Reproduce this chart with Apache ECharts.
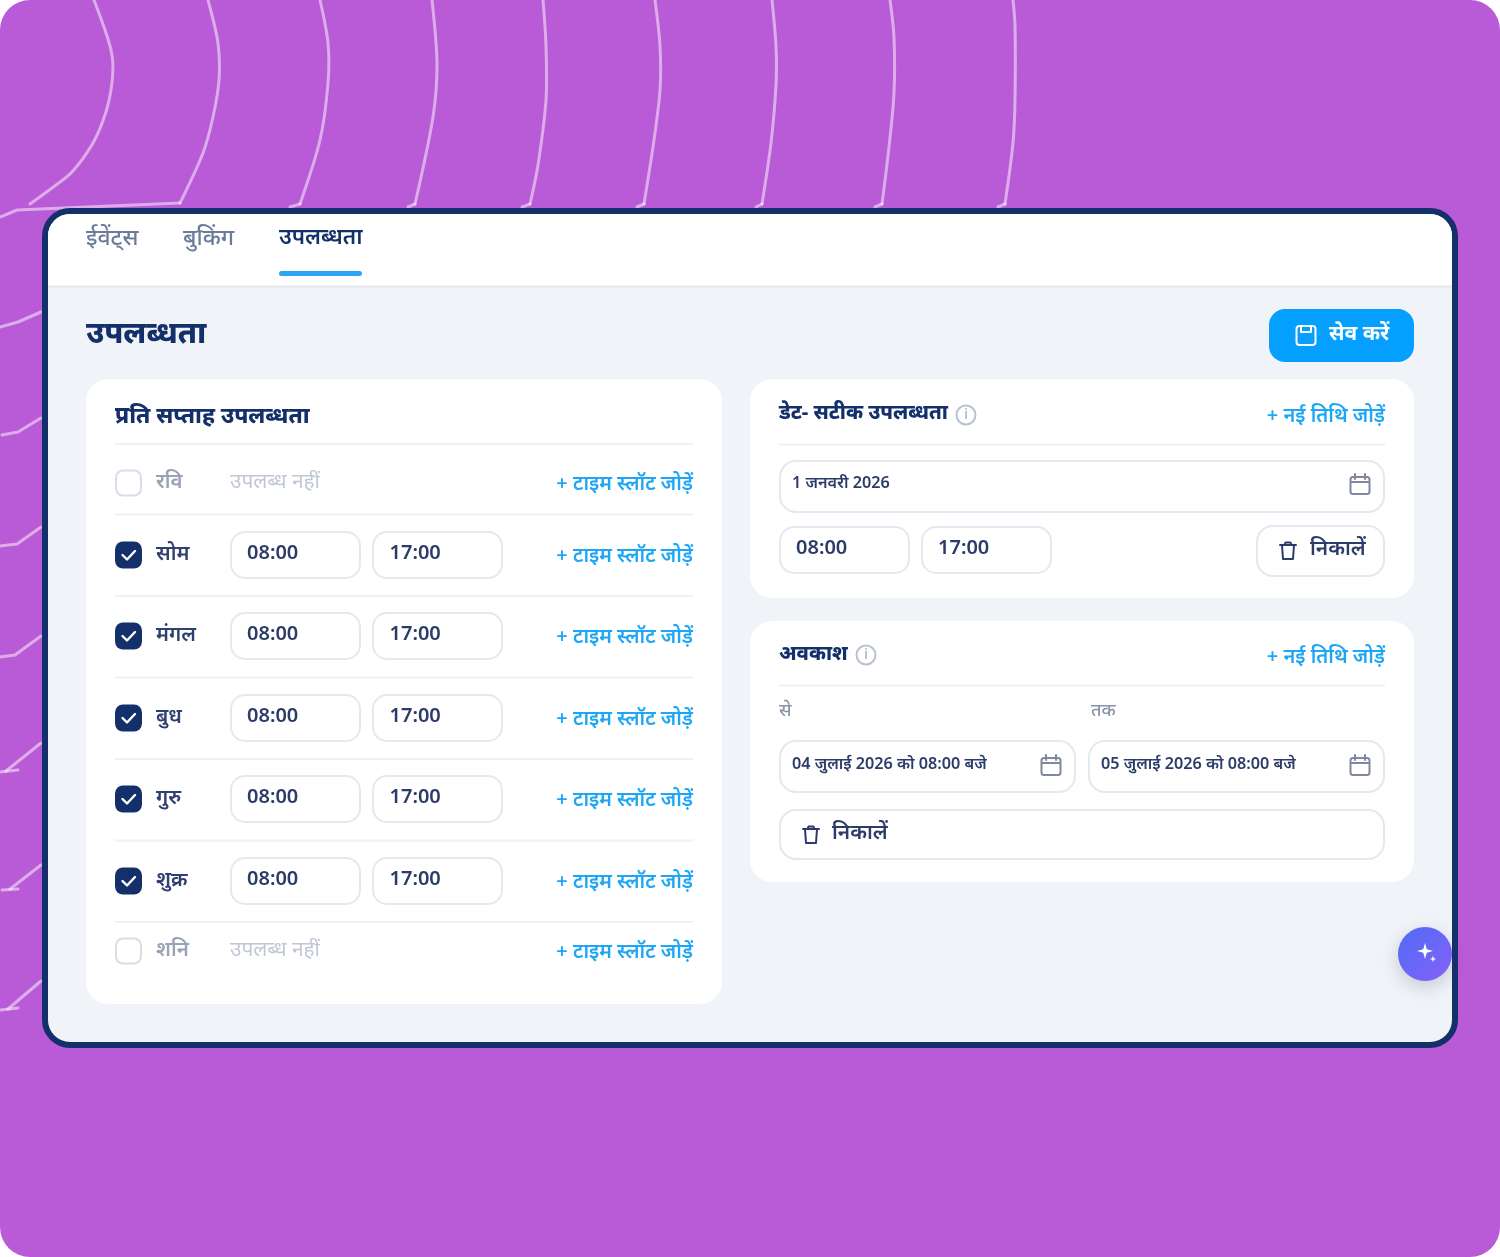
<!DOCTYPE html>
<html>

<head>
  <meta charset="utf-8">
  <title>उपलब्धता</title>
  <style>
    html, body { margin: 0; padding: 0; background: #fff; }
    #box { width: 1500px; height: 1257px; }
  </style>
</head>

<body>
  <div id="box"></div>
  <script src="https://cdn.jsdelivr.net/npm/echarts@6/dist/echarts.min.js"></script>
  <script type="text/javascript">
    var tabs = ['ईवेंट्स', 'बुकिंग', 'उपलब्धता'];
    var dayNames = ['रवि', 'सोम', 'मंगल', 'बुध', 'गुरु', 'शुक्र', 'शनि'];
    var dayOpen = [false, true, true, true, true, true, false];
    var slotStart = ['', '08:00', '08:00', '08:00', '08:00', '08:00', ''];
    var slotEnd = ['', '17:00', '17:00', '17:00', '17:00', '17:00', ''];
    var exactDate = '1 जनवरी 2026';
    var exactTimes = ['08:00', '17:00'];
    var holidayFrom = '04 जुलाई 2026 को 08:00 बजे';
    var holidayTo = '05 जुलाई 2026 को 08:00 बजे';

    var NAVY = '#14306b', INK = '#2c3c69', LINK = '#1ea6f6', EDGE = '#e4e8f0', RULE = '#edf0f5';
    var els = [];

    function txt(x, y, s, size, weight, fill, align) {
      els.push({
        type: 'text',
        style: {
          x: x, y: y, text: s, fill: fill, align: align || 'left', verticalAlign: 'middle',
          font: weight + ' ' + size + 'px "Noto Sans", sans-serif'
        }
      });
    }
    function box(x, y, w, h, r, fill, stroke, lw) {
      els.push({ type: 'rect', shape: { x: x, y: y, width: w, height: h, r: r }, style: { fill: fill, stroke: stroke || null, lineWidth: lw || 0 } });
    }
    function rule(x1, x2, y, color, lw) {
      els.push({ type: 'line', shape: { x1: x1, y1: y, x2: x2, y2: y }, style: { stroke: color || RULE, lineWidth: lw || 2 } });
    }
    function poly(points, stroke, lw, smooth) {
      els.push({ type: 'polyline', shape: { points: points, smooth: smooth || 0 }, style: { stroke: stroke, lineWidth: lw, fill: null, lineCap: 'round', lineJoin: 'round' } });
    }
    function input(x, y, w, h, r) { box(x, y, w, h, r, '#fff', EDGE, 2); }

    function calendar(cx, cy) {
      var c = '#7f889c';
      box(cx - 9.5, cy - 8, 19, 17, 2.5, null, c, 2);
      rule(cx - 9.5, cx + 9.5, cy - 3, c, 2);
      poly([[cx - 5, cy - 11], [cx - 5, cy - 6]], c, 2);
      poly([[cx + 5, cy - 11], [cx + 5, cy - 6]], c, 2);
    }
    function trash(cx, cy) {
      poly([[cx - 8, cy - 6], [cx + 8, cy - 6]], INK, 2);
      poly([[cx - 6, cy - 6], [cx - 5, cy + 8], [cx + 5, cy + 8], [cx + 6, cy - 6]], INK, 2);
      poly([[cx - 3.5, cy - 6], [cx - 2.5, cy - 8.5], [cx + 2.5, cy - 8.5], [cx + 3.5, cy - 6]], INK, 2);
    }
    function info(cx, cy) {
      els.push({ type: 'circle', shape: { cx: cx, cy: cy, r: 9.5 }, style: { fill: null, stroke: '#b8c1d3', lineWidth: 2 } });
      txt(cx, cy, 'i', 14, 400, '#9aa5bb', 'center');
    }
    function star(cx, cy, r) {
      var k = r * 0.22;
      els.push({
        type: 'polygon',
        shape: { points: [[cx, cy - r], [cx + k, cy - k], [cx + r, cy], [cx + k, cy + k], [cx, cy + r], [cx - k, cy + k], [cx - r, cy], [cx - k, cy - k]] },
        style: { fill: '#fff' }
      });
    }

    // background
    box(0, 0, 1500, 1257, 30, '#b95bd6');
    var curve = 'rgba(255,255,255,0.5)';
    [
      [[94, 0], [105, 30], [111, 50], [113, 66], [111, 90], [105, 115], [93, 143], [72, 172], [52, 188], [30, 204]],
      [[208, 0], [218, 43], [219, 80], [213, 117], [203, 153], [180, 203]],
      [[320, 0], [328, 43], [328, 83], [320, 140], [300, 204]],
      [[432, 0], [437, 63], [433, 117], [415, 204]],
      [[543, 0], [546, 46], [546, 100], [538, 165], [530, 204]],
      [[655, 0], [660, 46], [660, 90], [654, 140], [644, 204]],
      [[772, 0], [776, 46], [776, 85], [771, 143], [762, 204]],
      [[890, 0], [894, 37], [894, 93], [889, 147], [882, 204]],
      [[1013, 0], [1015, 25], [1015, 100], [1013, 143], [1005, 204]]
    ].forEach(function (p) { poly(p, curve, 3, 0.3); });
    [
      [[0, 217], [17, 210], [180, 203]],
      [[300, 204], [290, 207]], [[415, 204], [408, 207]], [[530, 204], [522, 207]], [[644, 204], [637, 207]],
      [[762, 204], [756, 207]], [[882, 204], [875, 207]], [[1005, 204], [998, 207]],
      [[0, 327], [18, 322], [41, 312]],
      [[2, 435], [18, 432], [41, 418]],
      [[0, 546], [17, 544], [41, 527]],
      [[0, 657], [15, 655], [41, 636]],
      [[0, 772], [18, 770]], [[6, 771], [41, 743]],
      [[2, 890], [18, 889]], [[10, 889], [41, 865]],
      [[0, 1010], [18, 1008]], [[8, 1009], [41, 981]]
    ].forEach(function (p) { poly(p, curve, 3); });

    // app frame
    box(45, 211, 1410, 834, 25, '#f0f3f8', NAVY, 6);
    box(48, 214, 1404, 72, [22, 22, 0, 0], '#fff');
    rule(48, 1452, 286.5, '#e4e8ee', 2);

    // tabs
    var tabX = [86, 183, 279];
    tabs.forEach(function (t, i) {
      txt(tabX[i], 238, t, i === 2 ? 22.3 : 23, i === 2 ? 600 : 500, i === 2 ? NAVY : '#6b7c9b');
    });
    box(279, 271, 83, 5, 2.5, '#2aa6f5');

    // heading + save
    txt(86, 334, 'उपलब्धता', 30.5, 800, NAVY);
    box(1269, 309, 145, 53, 16, '#049fff');
    box(1296.5, 326, 19, 19, 3, null, '#fff', 2);
    poly([[1301, 326], [1301, 332], [1311, 332], [1311, 326]], '#fff', 2);
    txt(1329, 334, 'सेव करें', 21, 700, '#fff');

    // weekly card
    box(86, 379, 636, 625, 22, '#fff');
    txt(115, 417, 'प्रति सप्ताह उपलब्धता', 22.5, 800, NAVY);
    rule(115, 693, 444);

    var rowY = [483, 555, 636, 718, 799, 881, 951];
    var ruleY = [514.5, 596, 677.5, 759, 840.5, 922];
    ruleY.forEach(function (y) { rule(115, 693, y); });
    dayNames.forEach(function (d, i) {
      var y = rowY[i];
      if (dayOpen[i]) {
        box(115, y - 13.5, 27, 27, 8, NAVY);
        poly([[122.5, y], [127, y + 4.5], [135, y - 4]], '#fff', 2.4);
        txt(156, y - 1, d, 20.5, 600, '#2f4070');
        input(231, y - 23, 129, 46, 14);
        input(373, y - 23, 129, 46, 14);
        txt(247, y - 2, slotStart[i], 20, 600, INK);
        txt(389.5, y - 2, slotEnd[i], 20, 600, INK);
      } else {
        box(116, y - 12.5, 25, 25, 7, '#fff', '#d8dde7', 2);
        txt(156, y - 1, d, 20.5, 600, '#99a3b5');
        txt(230, y - 1, 'उपलब्ध नहीं', 20.8, 400, '#c0c7d5');
      }
      txt(693, y + 1, '+ टाइम स्लॉट जोड़ें', 20, 600, LINK, 'right');
    });

    // date specific card
    box(750, 379, 664, 219, 22, '#fff');
    txt(779, 413, 'डेट- सटीक उपलब्धता', 20.2, 800, NAVY);
    info(966, 415);
    txt(1385, 416, '+ नई तिथि जोड़ें', 20, 600, LINK, 'right');
    rule(779, 1385, 444.5);
    input(780, 461, 604, 51, 16);
    txt(792, 483, exactDate, 16.2, 600, INK);
    calendar(1360, 485);
    input(780, 527, 129, 46, 14);
    input(922, 527, 129, 46, 14);
    txt(796, 548, exactTimes[0], 20, 600, INK);
    txt(938, 548, exactTimes[1], 20, 600, INK);
    input(1257, 526, 127, 50, 16);
    trash(1288, 551);
    txt(1310, 549, 'निकालें', 20.8, 600, INK);

    // holiday card
    box(750, 621, 664, 261, 22, '#fff');
    txt(779, 654, 'अवकाश', 20, 800, NAVY);
    info(866, 655);
    txt(1385, 657, '+ नई तिथि जोड़ें', 20, 600, LINK, 'right');
    rule(779, 1385, 685.5);
    txt(779, 711, 'से', 18, 500, '#8a94a8');
    txt(1091, 711, 'तक', 18, 500, '#8a94a8');
    input(780, 741, 295, 51, 16);
    input(1089, 741, 295, 51, 16);
    txt(792, 764, holidayFrom, 16.2, 600, INK);
    txt(1101, 764, holidayTo, 16.2, 600, INK);
    calendar(1051, 766);
    calendar(1360, 766);
    input(780, 810, 604, 49, 16);
    trash(811, 835);
    txt(832, 833, 'निकालें', 20.8, 600, INK);

    // assistant button
    els.push({
      type: 'circle',
      shape: { cx: 1425, cy: 954, r: 27 },
      style: {
        fill: new echarts.graphic.LinearGradient(0, 0, 1, 1, [
          { offset: 0, color: '#4f6df5' },
          { offset: 1, color: '#8660f9' }
        ]),
        shadowBlur: 18, shadowColor: 'rgba(40,50,80,0.22)', shadowOffsetY: 6
      }
    });
    star(1425, 951, 8);
    star(1433, 959, 3.5);

    var chart = echarts.init(document.getElementById('box'));
    chart.setOption({
      animation: false,
      graphic: { elements: els }
    });
  </script>
</body>

</html>
